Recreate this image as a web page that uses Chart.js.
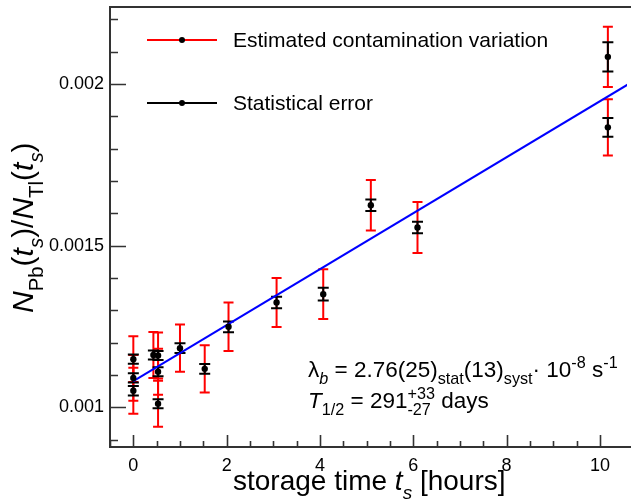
<!DOCTYPE html>
<html>
<head>
<meta charset="utf-8">
<script src="https://cdn.jsdelivr.net/npm/chart.js@4.4.1/dist/chart.umd.min.js"></script>
<style>
  html, body { margin: 0; padding: 0; background: #fff; }
  #c { display: block; }
</style>
</head>
<body>
<canvas id="c" width="631" height="500"></canvas>
<script>
// storage time t_s in hours, one entry per measurement
const timeHours = [0, 0, 0, 0.43, 0.53, 0.53, 0.53, 1.0, 1.53, 2.04, 3.07, 4.07, 5.09, 6.09, 10.17, 10.17];
// N_Pb / N_Tl ratio
const ratio = [0.001149, 0.001091, 0.001051, 0.001162, 0.001160, 0.001110, 0.001011, 0.001183,
               0.001119, 0.001249, 0.001324, 0.001350, 0.001625, 0.001556, 0.002084, 0.001866];
// statistical error (black bars)
const statErr = [0.0000145, 0.0000145, 0.0000145, 0.000014, 0.000014, 0.000014, 0.000014, 0.000015,
                 0.000015, 0.0000165, 0.000018, 0.00002, 0.000018, 0.000018, 0.000045, 0.000029];
// estimated contamination variation (red bars)
const contErr = [0.000071, 0.000071, 0.000071, 0.000071, 0.000071, 0.000071, 0.000071, 0.000073,
                 0.000073, 0.000075, 0.000076, 0.000077, 0.000078, 0.000079, 0.000093, 0.000087];
// linear fit, end points
const fitTime = [0, 10.65];
const fitRatio = [0.001081, 0.002003];

const xTickLabels = [0, 2, 4, 6, 8, 10];
const yTickLabels = ['0.001', '0.0015', '0.002'];
const legendLabels = ['Estimated contamination variation', 'Statistical error'];

const FONT = '"Liberation Sans", Arial, Helvetica, sans-serif';
const RED = 'rgb(255,0,0)';
const BLUE = 'rgb(0,0,255)';
const FRAME = '#333';

// text with sub/superscripts, parts advance along the baseline
function drawRich(ctx, parts, x, y, size, ratioSmall) {
  const k = ratioSmall || 0.68;
  let cx = x, held = 0;
  ctx.textBaseline = 'alphabetic';
  ctx.textAlign = 'left';
  for (const p of parts) {
    const small = p.sub || p.sup;
    const s = small ? size * k : size;
    ctx.font = (p.it ? 'italic ' : '') + s.toFixed(1) + 'px ' + FONT;
    const dy = p.sub ? size * 0.32 : (p.sup ? -size * 0.42 : 0);
    ctx.fillText(p.t, cx, y + dy);
    const w = ctx.measureText(p.t).width;
    if (p.keep) { held = w; continue; }
    cx += Math.max(w, held);
    held = 0;
  }
}

function nearTick(v, list) {
  return list.some(t => Math.abs(v - Number(t)) < 1e-9);
}

const errorBars = {
  id: 'errorBars',
  beforeDatasetsDraw(chart) {
    const {ctx, scales: {x, y}, chartArea} = chart;
    ctx.save();
    ctx.beginPath();
    ctx.rect(chartArea.left, chartArea.top, chartArea.right - chartArea.left, chartArea.bottom - chartArea.top);
    ctx.clip();
    const bar = (px, lo, hi, color, cap) => {
      const yl = y.getPixelForValue(lo), yh = y.getPixelForValue(hi);
      ctx.strokeStyle = color;
      ctx.lineWidth = 2;
      ctx.beginPath();
      ctx.moveTo(px, yl); ctx.lineTo(px, yh);
      ctx.moveTo(px - cap, yl); ctx.lineTo(px + cap, yl);
      ctx.moveTo(px - cap, yh); ctx.lineTo(px + cap, yh);
      ctx.stroke();
    };
    timeHours.forEach((t, i) => {
      const px = x.getPixelForValue(t);
      bar(px, ratio[i] - contErr[i], ratio[i] + contErr[i], RED, 5);
    });
    timeHours.forEach((t, i) => {
      const px = x.getPixelForValue(t);
      bar(px, ratio[i] - statErr[i], ratio[i] + statErr[i], '#000', 5.5);
    });
    ctx.restore();
  }
};

const frameAndText = {
  id: 'frameAndText',
  afterDraw(chart) {
    const {ctx, scales: {x, y}, chartArea: a} = chart;
    ctx.save();
    // frame
    ctx.strokeStyle = FRAME;
    ctx.lineWidth = 2;
    ctx.beginPath();
    ctx.moveTo(chart.width, a.top); ctx.lineTo(a.left, a.top);
    ctx.lineTo(a.left, a.bottom); ctx.lineTo(chart.width, a.bottom);
    ctx.stroke();
    // inward ticks
    ctx.lineWidth = 1.6;
    ctx.beginPath();
    x.ticks.forEach(t => {
      const px = Math.round(x.getPixelForValue(t.value)) + 0.5;
      const len = nearTick(t.value, xTickLabels) ? 12 : 6;
      ctx.moveTo(px, a.bottom); ctx.lineTo(px, a.bottom - len);
    });
    y.ticks.forEach(t => {
      const py = Math.round(y.getPixelForValue(t.value)) + 0.5;
      const len = nearTick(t.value, yTickLabels) ? 16 : 8;
      ctx.moveTo(a.left, py); ctx.lineTo(a.left + len, py);
    });
    ctx.stroke();

    // legend
    const legendY = [40, 103];
    const legendColors = [RED, '#000'];
    legendLabels.forEach((lab, i) => {
      ctx.strokeStyle = legendColors[i];
      ctx.lineWidth = 2;
      ctx.beginPath();
      ctx.moveTo(147, legendY[i]); ctx.lineTo(217, legendY[i]);
      ctx.stroke();
      ctx.fillStyle = '#000';
      ctx.beginPath();
      ctx.arc(182, legendY[i], 3, 0, Math.PI * 2);
      ctx.fill();
      ctx.font = '21px ' + FONT;
      ctx.textBaseline = 'middle';
      ctx.textAlign = 'left';
      ctx.fillText(lab, 233, legendY[i] + 1);
    });

    ctx.fillStyle = '#000';
    // fit result
    drawRich(ctx, [
      {t: 'λ'}, {t: 'b', sub: true, it: true}, {t: ' = 2.76(25)'}, {t: 'stat', sub: true},
      {t: '(13)'}, {t: 'syst', sub: true}, {t: '· 10'}, {t: '-8', sup: true}, {t: ' s'}, {t: '-1', sup: true}
    ], 308, 377, 22.5, 0.72);
    drawRich(ctx, [
      {t: 'T', it: true}, {t: '1/2', sub: true}, {t: ' = 291'}, {t: '+33', sup: true, keep: true},
      {t: '-27', sub: true}, {t: ' days'}
    ], 308, 408, 22.5, 0.72);

    // x title
    drawRich(ctx, [
      {t: 'storage time '}, {t: 't', it: true}, {t: 's', sub: true, it: true}, {t: ' [hours]'}
    ], 233, 490, 28);

    // y title, rotated
    ctx.translate(33, 313);
    ctx.rotate(-Math.PI / 2);
    drawRich(ctx, [
      {t: 'N', it: true}, {t: 'Pb', sub: true}, {t: '('}, {t: 't', it: true}, {t: 's', sub: true, it: true},
      {t: ')/'}, {t: 'N', it: true}, {t: 'Tl', sub: true}, {t: '('}, {t: 't', it: true},
      {t: 's', sub: true, it: true}, {t: ')'}
    ], 0, 0, 30);
    ctx.restore();
  }
};

new Chart(document.getElementById('c'), {
  data: {
    datasets: [
      {
        type: 'scatter',
        data: timeHours.map((t, i) => ({x: t, y: ratio[i]})),
        pointRadius: 3.2,
        pointBackgroundColor: '#000',
        pointBorderWidth: 0,
        order: 1
      },
      {
        type: 'line',
        data: fitTime.map((t, i) => ({x: t, y: fitRatio[i]})),
        borderColor: BLUE,
        borderWidth: 2,
        pointRadius: 0,
        fill: false,
        order: 2
      }
    ]
  },
  options: {
    responsive: false,
    animation: false,
    devicePixelRatio: 1,
    layout: {padding: {top: 7, right: 0, left: 0, bottom: 0}},
    plugins: {legend: {display: false}, tooltip: {enabled: false}},
    scales: {
      x: {
        type: 'linear',
        min: -0.5,
        max: 10.58,
        grid: {display: false, drawTicks: false},
        border: {display: false},
        afterBuildTicks(s) {
          const ticks = [];
          for (let k = 0; k <= 21; k++) ticks.push({value: -0.5 + k * 0.5});
          s.ticks = ticks;
        },
        afterFit(s) { s.height = 53; s.paddingLeft = 0; s.paddingRight = 0; },
        ticks: {
          autoSkip: false,
          maxRotation: 0,
          padding: 8,
          color: '#000',
          font: {family: FONT, size: 18},
          callback: v => (nearTick(v, xTickLabels) ? String(Math.round(v)) : '')
        }
      },
      y: {
        type: 'linear',
        min: 0.0008772,
        max: 0.0022382,
        grid: {display: false, drawTicks: false},
        border: {display: false},
        afterBuildTicks(s) {
          const ticks = [];
          for (let k = 9; k <= 22; k++) ticks.push({value: k / 10000});
          s.ticks = ticks;
        },
        afterFit(s) { s.width = 110; s.paddingTop = 0; s.paddingBottom = 0; },
        ticks: {
          autoSkip: false,
          padding: 6,
          color: '#000',
          font: {family: FONT, size: 18},
          callback: v => {
            const hit = yTickLabels.find(t => Math.abs(v - Number(t)) < 1e-9);
            return hit || '';
          }
        }
      }
    }
  },
  plugins: [errorBars, frameAndText]
});
</script>
</body>
</html>
